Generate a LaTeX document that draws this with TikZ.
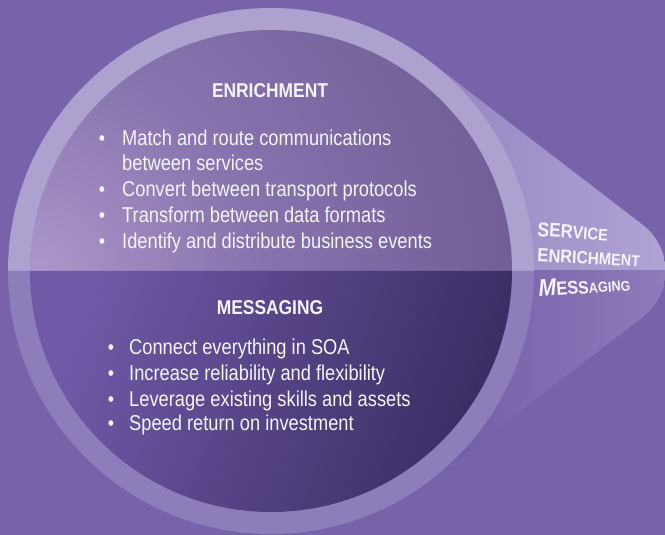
\documentclass[tikz,border=0pt]{standalone}
\usepackage{fontspec}
\setmainfont{Liberation Sans}[FakeStretch=0.85]
\newfontfamily\headfont{Liberation Sans}[FakeStretch=0.87]
\newfontfamily\lblfont{Liberation Sans}[FakeStretch=0.88]
\definecolor{bg}{RGB}{120,98,170}
\definecolor{ringTop}{RGB}{173,161,208}
\definecolor{ringBot}{RGB}{142,125,187}
\definecolor{coneTopL}{RGB}{150,133,194}
\definecolor{coneTopR}{RGB}{176,163,211}
\definecolor{coneBotL}{RGB}{112,92,166}
\definecolor{coneBotR}{RGB}{142,124,187}
\definecolor{innBotLight}{RGB}{112,90,168}
\definecolor{innBotDark}{RGB}{58,44,98}
\definecolor{txt}{RGB}{246,244,251}
\pgfdeclareradialshading{topglow}{\pgfpoint{0bp}{0bp}}{%
  rgb(0bp)=(0.67,0.59,0.79); rgb(6bp)=(0.53,0.45,0.68); rgb(14bp)=(0.43,0.36,0.58);
  rgb(25bp)=(0.36,0.30,0.48); rgb(50bp)=(0.35,0.29,0.46)}
\newcommand\Lt[2]{{\fontsize{#1}{#1}\selectfont #2}}
\tikzset{
  bodytext/.style={text=txt, inner sep=0pt, anchor=base west, font=\fontsize{21.5}{25}\selectfont},
  bullet/.style={text=txt, inner sep=0pt, anchor=base, font=\fontsize{21}{25}\selectfont},
  heading/.style={text=txt, inner sep=0pt, anchor=base, font=\headfont\bfseries\fontsize{20}{22}\selectfont},
  sidelabel/.style={text=txt, inner sep=0pt, anchor=base west, font=\lblfont\bfseries}
}
\begin{document}
\begin{tikzpicture}[x=1pt,y=1pt]
\useasboundingbox (0,0) rectangle (665,535);
\fill[bg] (0,0) rectangle (665,535);
\def\conepath{(271,264) -- (431.1,472.6) -- (642.9,310.0) arc[start angle=52.5, end angle=-52.5, radius=58] -- (431.1,55.4) -- cycle}
% cone
\begin{scope}
  \clip \conepath;
  \shade[left color=coneTopL, right color=coneTopR] (430,264) rectangle (665,535);
  \shade[left color=coneBotL, right color=coneBotR] (430,0) rectangle (665,264);
\end{scope}
% outer ring
\fill[ringTop] (8,264) arc[start angle=180, end angle=0, radius=263] -- cycle;
\fill[ringBot] (8,264) arc[start angle=180, end angle=360, radius=263] -- cycle;
% inner disc, upper half
\begin{scope}
  \clip (30,264) arc[start angle=180, end angle=0, radius=241] -- cycle;
  \shade[shading=topglow] (40,264) circle (900);
\end{scope}
% inner disc, lower half
\shade[top color=innBotLight, bottom color=innBotDark, shading angle=70]
  (30,264) arc[start angle=180, end angle=360, radius=241] -- cycle;
% upper texts
\node[heading] (h1) at (270,437) {ENRICHMENT};
\node[bullet] (b1) at (102,389) {•};
\node[bodytext] (t1) at (122,389) {Match and route communications};
\node[bodytext] (t1b) at (122,364) {between services};
\node[bullet] (b2) at (102,338) {•};
\node[bodytext] (t2) at (122,338) {Convert between transport protocols};
\node[bullet] (b3) at (102,312) {•};
\node[bodytext] (t3) at (122,312) {Transform between data formats};
\node[bullet] (b4) at (102,286) {•};
\node[bodytext] (t4) at (122,286) {Identify and distribute business events};
% lower texts
\node[heading] (h2) at (270,220) {MESSAGING};
\node[bullet] (c1) at (111,180) {•};
\node[bodytext] (u1) at (129,180) {Connect everything in SOA};
\node[bullet] (c2) at (111,154) {•};
\node[bodytext] (u2) at (129,154) {Increase reliability and flexibility};
\node[bullet] (c3) at (111,128) {•};
\node[bodytext] (u3) at (129,128) {Leverage existing skills and assets};
\node[bullet] (c4) at (111,104) {•};
\node[bodytext] (u4) at (129,104) {Speed return on investment};
% side labels
\node[sidelabel, rotate=-4] (s1) at (537,299) {\Lt{20}{S}\Lt{19.5}{E}\Lt{19}{R}\Lt{18}{V}\Lt{17.5}{I}\Lt{17}{C}\Lt{16.5}{E}};
\node[sidelabel, rotate=-3] (s2) at (537,273.5) {\Lt{19}{E}\Lt{18.7}{N}\Lt{18.4}{R}\Lt{18}{I}\Lt{17.7}{C}\Lt{17.4}{H}\Lt{17}{M}\Lt{16.6}{E}\Lt{16.2}{N}\Lt{15.8}{T}};
\node[sidelabel, rotate=4] (s3) at (539,238) {\Lt{24}{\itshape M}\Lt{19}{E}\Lt{18.5}{S}\Lt{18}{S}\Lt{14.5}{A}\Lt{14.5}{G}\Lt{14.5}{I}\Lt{14.5}{N}\Lt{14}{G}};
\end{tikzpicture}
\end{document}
